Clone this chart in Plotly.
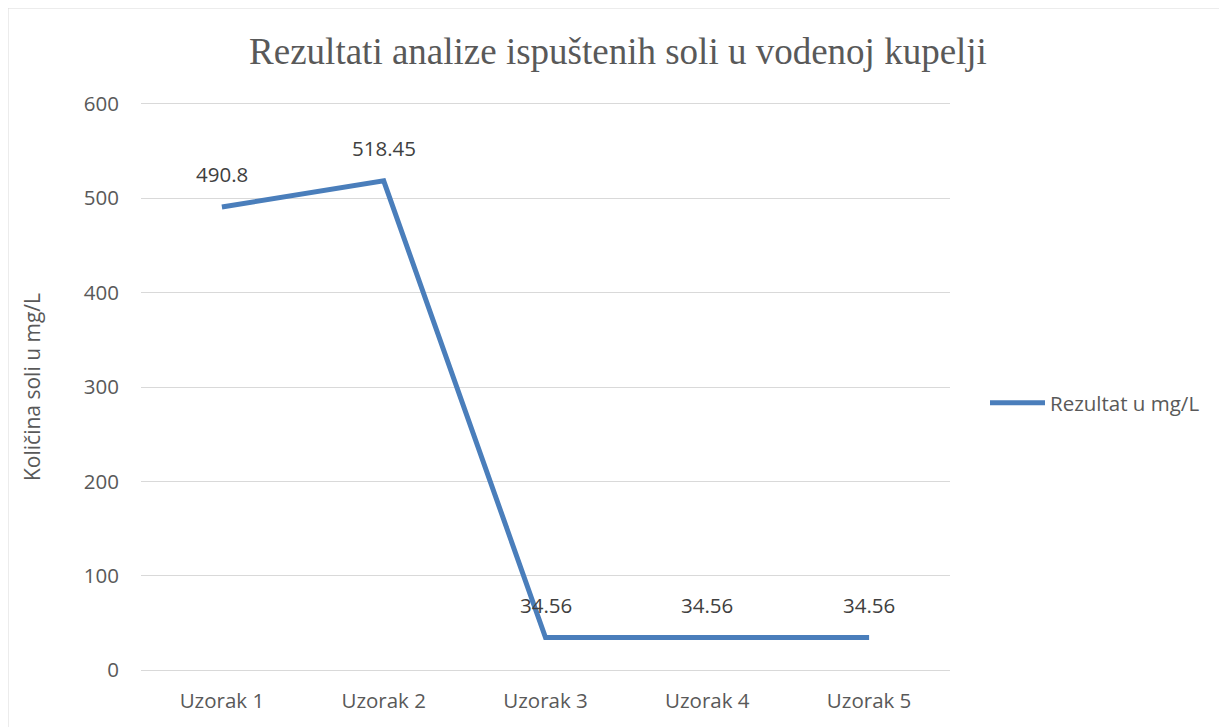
import plotly.graph_objects as go

categories = ["Uzorak 1", "Uzorak 2", "Uzorak 3", "Uzorak 4", "Uzorak 5"]
values = [490.8, 518.45, 34.56, 34.56, 34.56]
labels = ["490.8", "518.45", "34.56", "34.56", "34.56"]
series_name = "Rezultat u mg/L"
y_ticks = [0, 100, 200, 300, 400, 500, 600]

# page has an 8px body margin, so figure coords = screen coords - 8
OFF = 8
PAD = 2  # extra y-range units so edge gridlines are drawn
W, H = 1227 - OFF, 727 - OFF
unit = (670 - 104) / 600.0
L, T = 141 - OFF, round(104 - OFF - PAD * unit)
R = W - (950 - OFF)
B = round(H - (670 - OFF) - PAD * unit)
pw, ph = W - L - R, H - T - B

gray = "#595959"
font = "Open Sans"
fs = 20.5

fig = go.Figure()
fig.add_trace(go.Scatter(
    x=categories, y=values, mode="lines", name=series_name,
    line=dict(color="#4a7ebb", width=5),
))

for c, v, t in zip(categories, values, labels):
    fig.add_annotation(x=c, y=v, text=t, showarrow=False, yshift=33,
                       font=dict(family=font, size=fs, color="#404040"))

def px(x):
    return (x - OFF - L) / pw

def py(y):
    return (H - B - (y - OFF)) / ph

fig.add_shape(type="line", xref="paper", yref="paper",
              x0=px(8), x1=px(1260), y0=py(8), y1=py(8),
              line=dict(color="#d9d9d9", width=1))
fig.add_shape(type="line", xref="paper", yref="paper",
              x0=px(8), x1=px(8), y0=py(8), y1=py(760),
              line=dict(color="#d9d9d9", width=1))

fig.update_layout(
    width=W, height=H,
    margin=dict(l=L, r=R, t=T, b=B),
    paper_bgcolor="white", plot_bgcolor="white",
    title=dict(text="Rezultati analize ispuštenih soli u vodenoj kupelji",
               xref="container", x=(618 - OFF) / W, xanchor="center",
               yref="container", y=1 - (51 - OFF) / H, yanchor="middle",
               font=dict(family="Liberation Serif", size=37, color=gray)),
    showlegend=True,
    legend=dict(x=px(985), y=py(403), xanchor="left", yanchor="middle",
                font=dict(family=font, size=fs, color=gray),
                itemwidth=55, bgcolor="rgba(0,0,0,0)"),
    xaxis=dict(type="category", range=[-0.5, 4.5], showgrid=False,
               showline=False, zeroline=False,
               tickfont=dict(family=font, size=fs, color=gray),
               ticks="", ticklabelstandoff=14),
    yaxis=dict(range=[-PAD, 600 + PAD], tickvals=y_ticks, showgrid=True,
               gridcolor="#d9d9d9", gridwidth=1, zeroline=False,
               showline=False, ticks="",
               tickfont=dict(family=font, size=fs, color=gray),
               ticklabelstandoff=21,
               title=dict(text="Količina soli u mg/L", standoff=37,
                          font=dict(family=font, size=21, color=gray))),
)

fig.write_html("out.html")
